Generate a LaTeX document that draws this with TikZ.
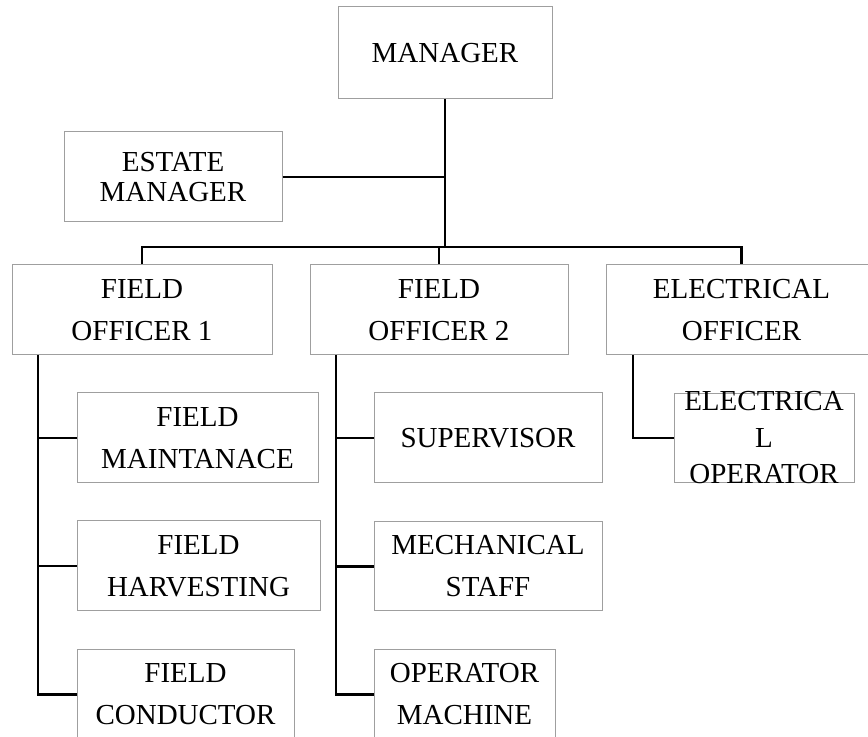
\documentclass[tikz,border=0pt]{standalone}
\usepackage{fontspec}
\setmainfont{Liberation Serif}
\tikzstyle{office}=[draw=gray!75, line width=0.5pt, inner sep=0pt, align=center,
    minimum height=45pt, font=\fontsize{14.5}{21}\selectfont]
\newcommand{\office}{\node[office]}

\begin{document}
\begin{tikzpicture}[x=0.5pt, y=-0.5pt
    ,link/.style={draw, line width=1.2pt}
]
\useasboundingbox (0,0) rectangle (868,737);
\clip (0,0) rectangle (868,737);
\office[minimum width=107pt, minimum height=46pt] (man) at (445,53) {MANAGER};
\office[minimum width=109pt, font=\fontsize{14.5}{15}\selectfont] (est) at (173,177) {ESTATE\\MANAGER};
\office[minimum width=130pt] (fo1) at (142,310) {FIELD\\OFFICER 1};
\office[minimum width=129pt] (fo2) at (439,310) {FIELD\\OFFICER 2};
\office[minimum width=135.5pt] (eo) at (741.5,310) {ELECTRICAL\\OFFICER};
\office[minimum width=120.5pt] (fm) at (197.5,438) {FIELD\\MAINTANACE};
\office[minimum width=121.5pt] (fh) at (198.5,566) {FIELD\\HARVESTING};
\office[minimum width=108.5pt, minimum height=45.5pt] (fc) at (185.5,694.5) {FIELD\\CONDUCTOR};
\office[minimum width=114pt] (sup) at (488,438) {SUPERVISOR};
\office[minimum width=114pt, minimum height=44.5pt] (mec) at (488,566.5) {MECHANICAL\\STAFF};
\office[minimum width=90.5pt, minimum height=45.5pt] (opm) at (464.5,694.5) {OPERATOR\\MACHINE};
\office[minimum width=90pt, minimum height=44.5pt] (eop) at (764,438) {};
\node[align=center, font=\fontsize{14.5}{18.25}\selectfont] (eoptext) at (eop) {ELECTRICA\\L\\OPERATOR};
\coordinate (bus) at (445,247);
\coordinate (trunk1) at (38,355);
\coordinate (trunk2) at (336,355);
\coordinate (trunk3) at (633,355);
\path[link]
(man) -- (bus)
(est) -- (est -| man)
(fo1) |- (bus) -| (eo)
(fo2) -- (fo2 |- bus)
(trunk1) |- (fm)
(trunk1) |- (fh)
(trunk1) |- (fc)
(trunk2) |- (sup)
(trunk2) |- (mec)
(trunk2) |- (opm)
(trunk3) |- (eop)
;
\end{tikzpicture}
\end{document}
